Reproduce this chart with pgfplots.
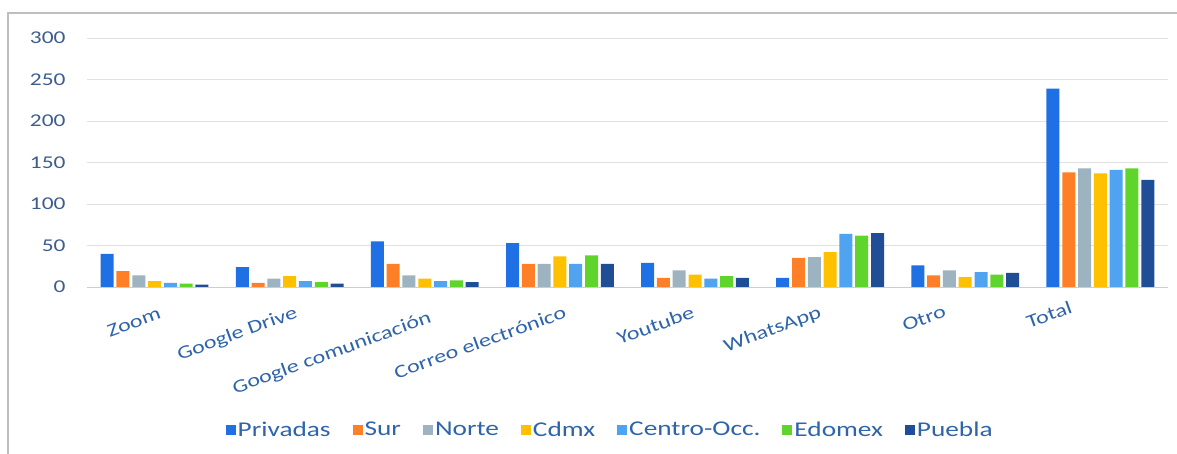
\documentclass[border=0pt]{standalone}
\usepackage{pgfplots}
\pgfplotsset{compat=1.18}
\usepackage{fontspec}
\setmainfont{Carlito}[FakeStretch=1.3]
\definecolor{cPriv}{RGB}{31,111,229}
\definecolor{cSur}{RGB}{255,127,39}
\definecolor{cNorte}{RGB}{157,179,191}
\definecolor{cCdmx}{RGB}{255,192,0}
\definecolor{cCentro}{RGB}{79,163,240}
\definecolor{cEdo}{RGB}{95,212,42}
\definecolor{cPue}{RGB}{31,78,150}
\definecolor{ytxt}{RGB}{62,92,140}
\definecolor{xtxt}{RGB}{46,100,170}
\definecolor{grid}{RGB}{225,225,225}
\begin{document}
\begin{tikzpicture}
\useasboundingbox (0,0) rectangle (1177bp,454bp);
\draw[color={rgb,255:red,190;green,190;blue,190}, line width=2bp] (8bp,0) -- (8bp,441bp) -- (1177bp,441bp);
\begin{axis}[
  at={(87bp,167bp)}, anchor=south west,
  scale only axis, width=1081bp, height=249bp,
  ybar=2.8bp, bar width=13bp,
  ymin=0, ymax=300, ytick={0,50,...,300},
  xmin=-0.5, xmax=7.5,
  xtick={0,...,7},
  xticklabels={},
  yticklabel style={font=\fontsize{18bp}{20bp}\selectfont, text=ytxt, xshift=-18bp},
  /pgf/number format/assume math mode=true,
  major tick length=0pt,
  axis x line*=bottom, axis y line*=left,
  y axis line style={draw=none},
  x axis line style={color={rgb,255:red,205;green,205;blue,205}, line width=1bp, -},
  ymajorgrids, grid style={color=grid, line width=1bp},
  legend columns=-1,
  legend style={at={(0.484,-0.574)}, anchor=center, draw=none, font=\fontsize{21bp}{23bp}\selectfont, text=xtxt,
    /tikz/every even column/.append style={column sep=20bp}},
  legend image code/.code={\fill[#1] (2bp,-5bp) rectangle (12bp,5bp);},
  every axis plot/.append style={draw=none},
]
\addplot[fill=cPriv] coordinates {(0,40) (1,24) (2,55) (3,53) (4,29) (5,11) (6,26) (7,239)};
\addplot[fill=cSur] coordinates {(0,19) (1,5) (2,28) (3,28) (4,11) (5,35) (6,14) (7,138)};
\addplot[fill=cNorte] coordinates {(0,14) (1,10) (2,14) (3,28) (4,20) (5,36) (6,20) (7,143)};
\addplot[fill=cCdmx] coordinates {(0,7) (1,13) (2,10) (3,37) (4,15) (5,42) (6,12) (7,137)};
\addplot[fill=cCentro] coordinates {(0,5) (1,7) (2,7) (3,28) (4,10) (5,64) (6,18) (7,141)};
\addplot[fill=cEdo] coordinates {(0,4) (1,6) (2,8) (3,38) (4,13) (5,62) (6,15) (7,143)};
\addplot[fill=cPue] coordinates {(0,3) (1,4) (2,6) (3,28) (4,11) (5,65) (6,17) (7,129)};
\legend{Privadas,Sur,Norte,Cdmx,Centro-Occ.,Edomex,Puebla}
\end{axis}
\begin{scope}[every node/.style={rotate=20, anchor=north east, inner sep=0pt, text=xtxt, font=\fontsize{18.5bp}{20bp}\selectfont}]
\node at (158bp,147bp) {Zoom};
\node at (294bp,149bp) {Google Drive};
\node at (428bp,144bp) {Google comunicación};
\node at (563bp,149bp) {Correo electrónico};
\node at (691bp,149bp) {Youtube};
\node at (818bp,149bp) {WhatsApp};
\node at (943bp,149bp) {Otro};
\node at (1069bp,154bp) {Total};
\end{scope}
\end{tikzpicture}
\end{document}
